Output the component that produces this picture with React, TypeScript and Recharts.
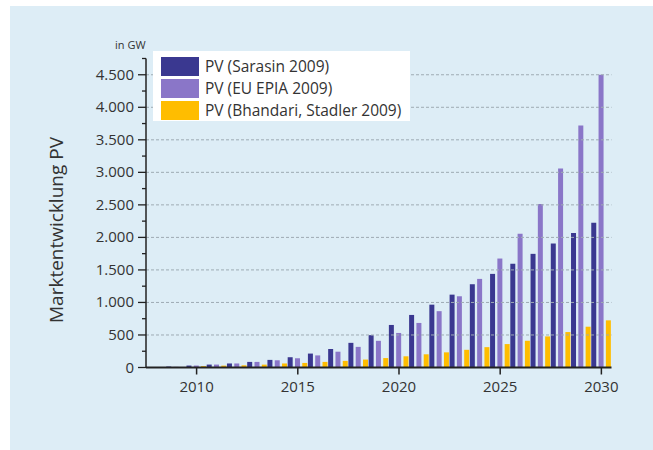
import React from "react";
import { BarChart, Bar, XAxis, YAxis, ReferenceLine, Legend } from "recharts";

const years = [
  2008, 2009, 2010, 2011, 2012, 2013, 2014, 2015, 2016, 2017, 2018, 2019,
  2020, 2021, 2022, 2023, 2024, 2025, 2026, 2027, 2028, 2029, 2030,
];
const sarasin = [
  8, 15, 30, 45, 62, 86, 117, 158, 214, 284, 379, 497,
  654, 808, 966, 1120, 1280, 1439, 1593, 1747, 1906, 2066, 2225,
];
const epia = [
  6, 10, 30, 45, 62, 86, 111, 142, 186, 243, 317, 410,
  531, 685, 866, 1095, 1362, 1675, 2055, 2513, 3058, 3719, 4500,
];
const bhandari = [
  3, 5, 21, 29, 34, 44, 62, 70, 86, 102, 122, 145,
  172, 203, 233, 272, 313, 360, 411, 478, 545, 627, 725,
];

const seriesNames = ["PV (Sarasin 2009)", "PV (EU EPIA 2009)", "PV (Bhandari, Stadler 2009)"];
const yTicks = [
  0, 250, 500, 750, 1000, 1250, 1500, 1750, 2000, 2250, 2500,
  2750, 3000, 3250, 3500, 3750, 4000, 4250, 4500, 4750,
];
const gridValues = [500, 1000, 1500, 2000, 2500, 3000, 3500, 4000, 4500];
const labelledYears = [2010, 2015, 2020, 2025, 2030];

const data = years.map((year, i) => ({
  year,
  sarasin: sarasin[i],
  epia: epia[i],
  bhandari: bhandari[i],
}));

const colors = ["#3a3890", "#8a76c8", "#ffbd00"];
const keys = ["sarasin", "epia", "bhandari"];
const font = "'Open Sans', sans-serif";
const ink = "#333";

const fmt = (v: number) =>
  v >= 1000 ? `${Math.floor(v / 1000)}.${String(v % 1000).padStart(3, "0")}` : String(v);

const YTick = (props: any) => {
  const { x, y, payload } = props;
  const major = payload.value % 500 === 0;
  return (
    <g>
      <line x1={x - (major ? 8 : 4)} x2={x} y1={y} y2={y} stroke="#222" strokeWidth={1.3} />
      {major && (
        <text x={x - 12} y={y} dy={5} textAnchor="end" fontSize={15} fill={ink} fontFamily={font}>
          {fmt(payload.value)}
        </text>
      )}
    </g>
  );
};

const XTick = (props: any) => {
  const { x, y, payload } = props;
  if (!labelledYears.includes(payload.value)) return <g />;
  return (
    <g>
      <line x1={x} x2={x} y1={y} y2={y + 7} stroke="#222" strokeWidth={1.5} />
      <text x={x} y={y + 24} textAnchor="middle" fontSize={15} fill={ink} fontFamily={font}>
        {payload.value}
      </text>
    </g>
  );
};

const LegendBox = () => (
  <div
    style={{
      background: "#fff",
      width: 257,
      height: 70,
      boxSizing: "border-box",
      padding: "4px 0 0 8px",
      fontFamily: font,
    }}
  >
    {seriesNames.map((name, i) => (
      <div key={name} style={{ display: "flex", alignItems: "center", height: 22 }}>
        <div style={{ width: 38, height: 19, background: colors[i], marginRight: 6 }} />
        <span style={{ fontSize: 15.5, color: ink }}>{name}</span>
      </div>
    ))}
  </div>
);

export default function App() {
  return (
    <div style={{ position: "absolute", left: 0, top: 0, width: 653, height: 450, background: "#fff" }}>
      <div
        style={{
          position: "absolute",
          left: 10,
          top: 6,
          width: 643,
          height: 444,
          background: "#ddedf6",
        }}
      />
      <div
        style={{
          position: "absolute",
          left: 115,
          top: 37,
          fontFamily: font,
          fontSize: 11,
          color: ink,
        }}
      >
        in GW
      </div>
      <div
        style={{
          position: "absolute",
          left: 56,
          top: 230,
          transform: "translate(-50%, -50%) rotate(-90deg)",
          whiteSpace: "nowrap",
          fontFamily: font,
          fontSize: 19,
          color: ink,
        }}
      >
        Marktentwicklung PV
      </div>
      <div style={{ position: "absolute", left: 0, top: 0 }}>
        <BarChart
          width={653}
          height={450}
          data={data}
          margin={{ top: 58.5, right: 41.5, bottom: 52.5, left: 86 }}
          barGap={2.3}
          barSize={5}
        >
          {gridValues.map((v) => (
            <ReferenceLine key={v} y={v} stroke="#9eabb3" strokeDasharray="3 2" strokeWidth={1} />
          ))}
          <XAxis
            dataKey="year"
            interval={0}
            height={30}
            tickSize={0}
            tickMargin={0}
            tickLine={false}
            tick={<XTick />}
            axisLine={{ stroke: "#222", strokeWidth: 2 }}
          />
          <YAxis
            width={60}
            domain={[0, 4750]}
            ticks={yTicks}
            interval={0}
            tickSize={0}
            tickMargin={0}
            tickLine={false}
            tick={<YTick />}
            axisLine={{ stroke: "#222", strokeWidth: 1.5 }}
          />
          {keys.map((k, i) => (
            <Bar key={k} dataKey={k} name={seriesNames[i]} fill={colors[i]} isAnimationActive={false} />
          ))}
          <Legend
            layout="horizontal"
            verticalAlign="middle"
            align="center"
            content={<LegendBox />}
            wrapperStyle={{ left: 153, top: 51, width: 257, height: 70 }}
          />
        </BarChart>
      </div>
    </div>
  );
}
